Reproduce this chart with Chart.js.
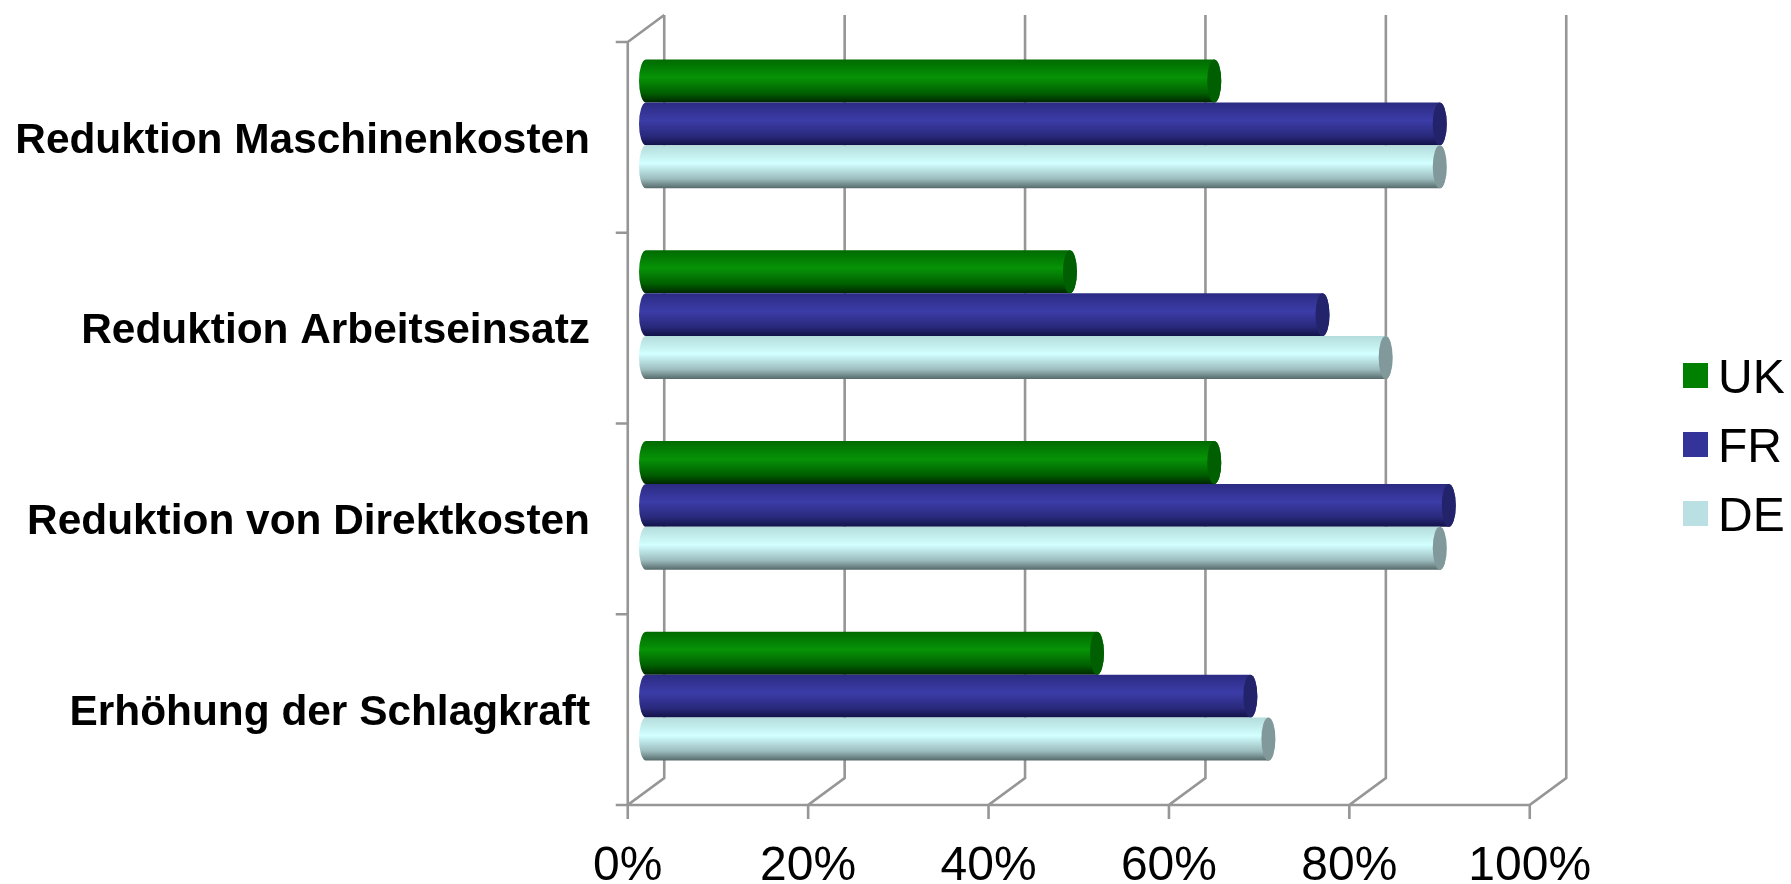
<!DOCTYPE html>
<html>
<head>
<meta charset="utf-8">
<title>Reduktion und Schlagkraft</title>
<script src="https://cdn.jsdelivr.net/npm/chart.js@4/dist/chart.umd.js"></script>
<style>
  html, body { margin: 0; padding: 0; background: #fff; }
  #wrap { width: 1791px; height: 884px; }
</style>
</head>
<body>
<div id="wrap"><canvas id="chart"></canvas></div>
<script>
  const categories = [
    'Reduktion Maschinenkosten',
    'Reduktion Arbeitseinsatz',
    'Reduktion von Direktkosten',
    'Erhöhung der Schlagkraft'
  ];
  const seriesNames = ['UK', 'FR', 'DE'];
  const ukValues = [63, 47, 63, 50];
  const frValues = [88, 75, 89, 67];
  const deValues = [88, 82, 88, 69];
  const xTicks = [0, 20, 40, 60, 80, 100];

  const legendColors = ['#008000', '#333399', '#BBE0E3'];
  const capColors = ['#005f00', '#23236c', '#82999b'];
  const bodyStops = [
    ['#006a00', '#079307', '#006000', '#002800'],
    ['#2b2b82', '#3c3ca8', '#29297c', '#121248'],
    ['#b4dcdc', '#d2ffff', '#9cbcbe', '#566a6a']
  ];
  const stopAt = [0, 0.42, 0.78, 1];

  const GRID = '#969696';
  // half the wall depth, the bars sit halfway between front axis and back wall
  const DX = 18.25;
  const DY = 13.5;
  const CAP_RX = 7;

  function drawCylinder(ctx, bar, i) {
    const half = bar.height / 2;
    const t = bar.y - half;
    const b = bar.y + half;
    const grad = ctx.createLinearGradient(0, t, 0, b);
    bodyStops[i].forEach((c, k) => grad.addColorStop(stopAt[k], c));
    ctx.fillStyle = grad;
    ctx.beginPath();
    ctx.moveTo(bar.base, t);
    ctx.lineTo(bar.x, t);
    ctx.ellipse(bar.x, bar.y, CAP_RX, half, 0, -Math.PI / 2, Math.PI / 2);
    ctx.lineTo(bar.base, b);
    ctx.ellipse(bar.base, bar.y, CAP_RX, half, 0, Math.PI / 2, Math.PI * 1.5);
    ctx.closePath();
    ctx.fill();
    ctx.fillStyle = capColors[i];
    ctx.beginPath();
    ctx.ellipse(bar.x, bar.y, CAP_RX, half, 0, 0, Math.PI * 2);
    ctx.fill();
  }

  const wallPlugin = {
    id: 'wall',
    beforeDatasetsDraw(chart) {
      const { ctx, scales: { x, y } } = chart;
      const band = (y.bottom - y.top) / categories.length;
      const bottom = y.bottom + DY;
      const top = y.top + DY;
      ctx.save();
      ctx.strokeStyle = GRID;
      ctx.lineWidth = 2.6;
      ctx.beginPath();
      xTicks.forEach(v => {
        const fx = x.getPixelForValue(v) - DX;
        const bx = x.getPixelForValue(v) + DX;
        // tick below the floor, floor diagonal, back wall line
        ctx.moveTo(fx, bottom + 14);
        ctx.lineTo(fx, bottom);
        ctx.lineTo(bx, bottom - 2 * DY);
        ctx.lineTo(bx, top - 2 * DY);
      });
      // left axis with its category ticks
      const x0 = x.getPixelForValue(0) - DX;
      ctx.moveTo(x0, top);
      ctx.lineTo(x0, bottom);
      for (let i = 0; i <= categories.length; i++) {
        ctx.moveTo(x0 - 12, top + i * band);
        ctx.lineTo(x0, top + i * band);
      }
      ctx.moveTo(x0, top);
      ctx.lineTo(x0 + 2 * DX, top - 2 * DY);
      ctx.moveTo(x0 - 12, bottom);
      ctx.lineTo(x.getPixelForValue(100) - DX, bottom);
      ctx.stroke();
      // cylinders in series order, the lower ones overlap the upper ones
      chart.data.datasets.forEach((ds, i) => {
        chart.getDatasetMeta(i).data.forEach(bar => drawCylinder(ctx, bar, i));
      });
      ctx.restore();
    },
    // the flat bar rectangles are replaced by the cylinders above
    beforeDatasetDraw() {
      return false;
    },
    afterDraw(chart) {
      const { ctx } = chart;
      ctx.save();
      ctx.font = '48px "Liberation Sans"';
      ctx.textBaseline = 'middle';
      seriesNames.forEach((name, i) => {
        const cy = 375.5 + i * 69;
        ctx.fillStyle = legendColors[i];
        ctx.fillRect(1683, cy - 12.5, 25, 25);
        ctx.fillStyle = '#000';
        ctx.fillText(name, 1718, cy + 4);
      });
      ctx.restore();
    }
  };

  function makeDataset(i, values) {
    return {
      label: seriesNames[i],
      data: values,
      backgroundColor: legendColors[i]
    };
  }

  new Chart(document.getElementById('chart'), {
    type: 'bar',
    data: {
      labels: categories,
      datasets: [makeDataset(0, ukValues), makeDataset(1, frValues), makeDataset(2, deValues)]
    },
    options: {
      indexAxis: 'y',
      responsive: true,
      maintainAspectRatio: false,
      animation: false,
      categoryPercentage: 0.675,
      barPercentage: 1,
      layout: { padding: { top: 28.5, right: 243, left: 0, bottom: 0 } },
      plugins: { legend: { display: false }, tooltip: { enabled: false } },
      scales: {
        x: {
          min: 0,
          max: 100,
          grid: { display: false },
          border: { display: false },
          afterFit: s => { s.height = 92.5; s.paddingLeft = 0; s.paddingRight = 0; },
          afterBuildTicks: s => { s.ticks = xTicks.map(v => ({ value: v })); },
          ticks: {
            color: '#000',
            font: { family: '"Liberation Sans"', size: 48 },
            padding: 38,
            maxRotation: 0,
            labelOffset: -DX,
            callback: v => v + '%'
          }
        },
        y: {
          grid: { display: false },
          border: { display: false },
          afterFit: s => { s.width = 646; s.paddingTop = 0; s.paddingBottom = 0; },
          ticks: {
            color: '#000',
            font: { family: '"Liberation Sans"', size: 42.4, weight: 'bold' },
            padding: 48,
            labelOffset: DY + 3.5
          }
        }
      }
    },
    plugins: [wallPlugin]
  });
</script>
</body>
</html>
